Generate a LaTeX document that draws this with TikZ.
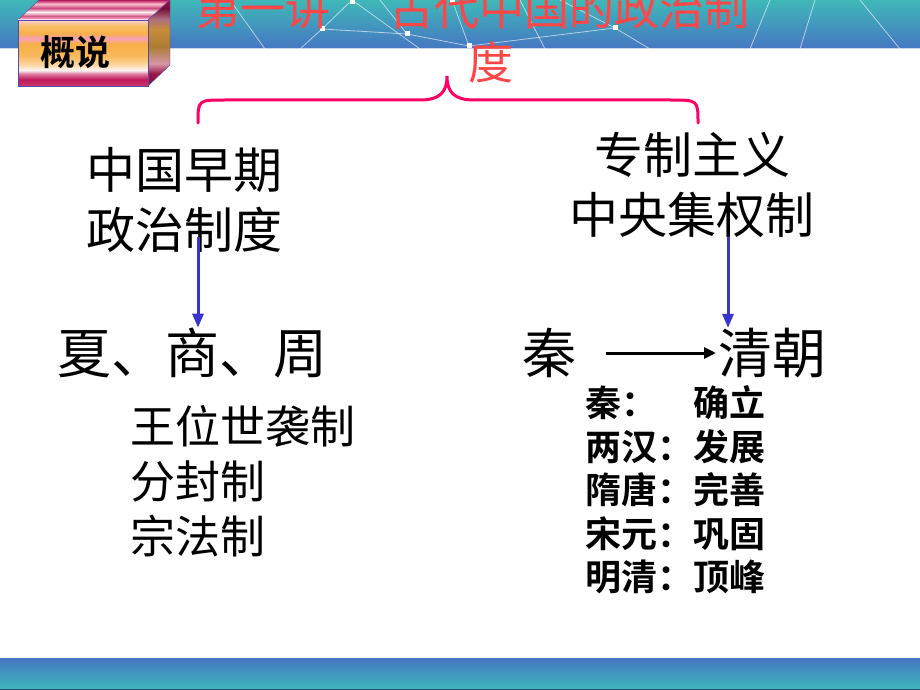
\documentclass[tikz,border=0pt]{standalone}
\usepackage{fontspec}
\setmainfont{Noto Sans CJK SC}[BoldFont={Noto Sans CJK SC Bold}]
\usetikzlibrary{positioning,arrows.meta}
\definecolor{bandteal}{HTML}{3FB8B8}
\definecolor{bandblue}{HTML}{4676C2}
\definecolor{titlered}{HTML}{FF4646}
\definecolor{bracepink}{HTML}{FF0066}
\definecolor{arrowblue}{HTML}{3636CC}
\definecolor{boxorange}{HTML}{F8B048}
\definecolor{boxpink}{HTML}{F8A0B8}
\definecolor{boxmag}{HTML}{C0185A}
\definecolor{boxedge}{HTML}{5A4AA8}
\pgfdeclareverticalshading{boxfront}{100bp}{color(0bp)=(boxmag); color(25bp)=(boxmag!80!pink); color(30bp)=(boxmag); color(34bp)=(boxmag!60!white); color(37bp)=(white!85!pink); color(41bp)=(boxorange!50!white); color(48bp)=(boxorange!90!white); color(57bp)=(boxorange); color(61bp)=(boxpink); color(65bp)=(boxorange); color(71bp)=(boxorange!80!white); color(75bp)=(boxpink!50!white); color(100bp)=(boxpink!50!white)}
\pgfdeclareverticalshading{boxside}{100bp}{color(0bp)=(boxmag!70!black); color(25bp)=(boxmag!70!black); color(32bp)=(boxmag!80!black); color(38bp)=(boxpink!70!gray); color(48bp)=(boxorange!70!black); color(58bp)=(boxorange!80!black); color(64bp)=(boxpink!70!black); color(70bp)=(boxmag!60!black); color(75bp)=(boxmag!80!black); color(100bp)=(boxmag!80!black)}
\pgfdeclareverticalshading{boxtop}{100bp}{color(0bp)=(boxpink!60!white); color(25bp)=(boxpink!60!white); color(35bp)=(boxmag!70!white); color(45bp)=(white!80!pink); color(55bp)=(boxmag!80!white); color(65bp)=(boxpink!70!white); color(75bp)=(boxmag); color(100bp)=(boxmag)}
\tikzset{
  net/.style={white, line width=0.8pt, opacity=0.6},
  netdot/.style={fill=white, minimum size=5pt, inner sep=0pt},
  bigtext/.style={inner sep=0pt, font=\fontsize{49}{60}\selectfont},
  hugetext/.style={inner sep=0pt, font=\fontsize{54}{60}\selectfont},
  listtext/.style={inner sep=0pt, font=\fontsize{45}{55}\selectfont, align=left},
  periodtext/.style={inner sep=0pt, font=\fontsize{36}{43.5}\selectfont\bfseries, align=left},
  downarrow/.style={arrowblue, line width=3pt, -{Triangle[length=14pt, width=11pt]}},
  thinarrow/.style={black, line width=3pt, -{Triangle[length=12pt, width=11pt]}},
  brace/.style={bracepink, line width=3pt, line cap=round}
}
\begin{document}
\begin{tikzpicture}[x=1pt, y=-1pt]
	\useasboundingbox (0,0) rectangle (920,690);
	\shade[top color=bandteal, bottom color=bandblue] (0,0) rectangle (920,49);
	\draw[white, line width=1.5pt, opacity=0.7] (0,49) -- (920,49);
	\draw[net] (352,0) -- (322,29) -- (300,49);
	\draw[net] (322,29) -- (407,34) -- (469,46) -- (452,0);
	\draw[net] (407,34) -- (380,0);
	\draw[net] (469,46) -- (615,28) -- (560,0);
	\draw[net] (615,28) -- (650,49);
	\draw[net] (230,0) -- (265,49);
	\draw[net] (352,0) -- (420,49);
	\draw[net] (520,0) -- (545,49);
	\draw[net] (770,0) -- (750,49);
	\draw[net] (815,0) -- (800,49);
	\draw[net] (860,0) -- (900,49);
	\foreach \p in {(352,2),(322,29),(407,34),(469,46),(615,28),(452,3)}
		\node[netdot] at \p {};
	\shade[top color=bandblue, bottom color=bandteal] (0,658) rectangle (920,690);
	\draw[bandblue!60!black, line width=1pt] (0,689.5) -- (920,689.5);
	\shade[shading=boxtop, draw=boxedge] (18,20) -- (39,0) -- (170,0) -- (148,20) -- cycle;
	\shade[shading=boxside, draw=boxedge] (148,20) -- (170,0) -- (170,65) -- (148,86) -- cycle;
	\shade[shading=boxfront, draw=boxedge] (18,20) rectangle (148,86);
	\node[inner sep=0pt, font=\fontsize{35}{35}\selectfont\bfseries] (overview) at (75,52) {概说};
	\node[inner sep=0pt, text=titlered, font=\fontsize{45}{54}\selectfont, align=center] (title) at (491,35)
		{第一讲\hspace{1.3em}古代中国的政治制\hspace*{0.82em}\\度};
	\draw[brace] (198,123) .. controls (198,100) .. (225,100) -- (420,100)
		.. controls (440,100) and (447,92) .. (447,76)
		.. controls (447,92) and (454,100) .. (474,100) -- (670,100)
		.. controls (698,100) .. (698,123);
	\node[bigtext, align=left, anchor=west] (early) at (86,200) {中国早期\\政治制度};
	\node[bigtext, align=center] (central) at (692,185) {专制主义\\中央集权制};
	\node[hugetext, anchor=west] (xsz) at (57,353) {夏、商、周};
	\node[hugetext, anchor=west] (qin) at (522,353) {秦};
	\node[hugetext, anchor=west] (qing) at (718,353) {清朝};
	\node[listtext, anchor=west] (zhou) at (130,481) {王位世袭制\\分封制\\宗法制};
	\node[periodtext, anchor=west] (periods) at (585,490)
		{秦：\hspace{1em}确立\\两汉：发展\\隋唐：完善\\宋元：巩固\\明清：顶峰};
	\coordinate (lefttop) at (198,237);
	\coordinate (righttop) at (728,237);
	\draw[downarrow] (lefttop) -- (lefttop |- xsz.north);
	\draw[downarrow] (righttop) -- (righttop |- qing.north);
	\draw[thinarrow] ([xshift=30pt]qin.east) -- ([xshift=-2pt]qing.west);
\end{tikzpicture}
\end{document}
